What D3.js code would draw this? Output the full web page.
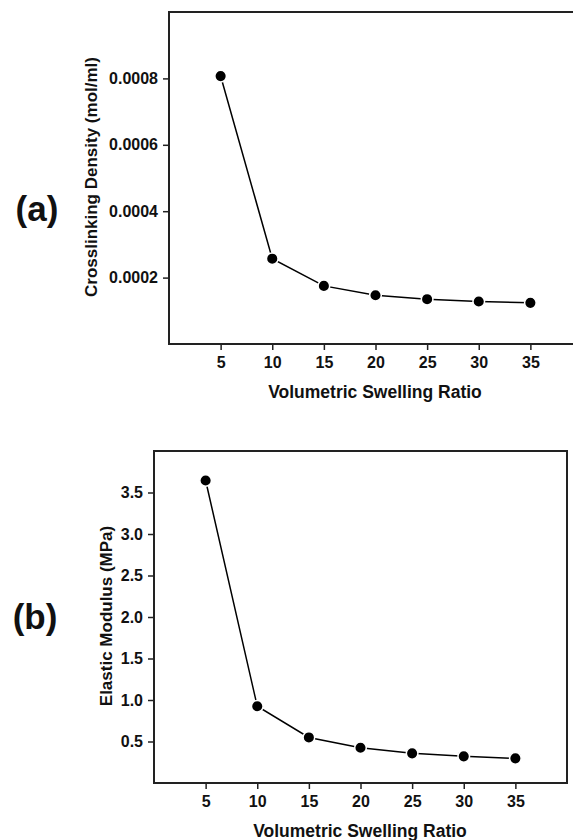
<!DOCTYPE html>
<html>
<head>
<meta charset="utf-8">
<script src="https://cdn.jsdelivr.net/npm/d3@7"></script>
<style>
  body { margin: 0; background: #fff; }
  svg text { font-family: "Liberation Sans", Arial, sans-serif; font-weight: bold; fill: #111; }
</style>
</head>
<body>
<div id="chart"></div>
<script>
// values
var swellingRatio = [5, 10, 15, 20, 25, 30, 35];
var crosslinkDensity = [0.000807, 0.000257, 0.000175, 0.000147, 0.000135, 0.000128, 0.000124];
var elasticModulus = [3.645, 0.925, 0.549, 0.425, 0.357, 0.321, 0.297];
var xTicks = [5, 10, 15, 20, 25, 30, 35];
var densityTicks = [0.0002, 0.0004, 0.0006, 0.0008];
var modulusTicks = [0.5, 1.0, 1.5, 2.0, 2.5, 3.0, 3.5];

var width = 573, height = 840;
var svg = d3.select("#chart").append("svg")
    .attr("width", width)
    .attr("height", height);

function panel(opt) {
    var x = d3.scaleLinear().domain([0, 40]).range([opt.left, opt.right]);
    var y = d3.scaleLinear().domain(opt.yDomain).range([opt.bottom, opt.top]);
    var g = svg.append("g");

    // frame
    g.append("rect")
        .attr("x", opt.left).attr("y", opt.top)
        .attr("width", opt.right - opt.left).attr("height", opt.bottom - opt.top)
        .attr("fill", "none").attr("stroke", "#222").attr("stroke-width", 2);

    var xAxis = g.append("g")
        .attr("transform", "translate(0," + opt.bottom + ")")
        .call(d3.axisBottom(x).tickValues(xTicks).tickSize(6).tickPadding(7).tickFormat(d3.format("d")));
    xAxis.select(".domain").remove();
    xAxis.selectAll("line").attr("stroke", "#222").attr("stroke-width", 1.5);
    xAxis.selectAll("text").attr("font-size", 16).attr("fill", "#111");

    var yAxis = g.append("g")
        .attr("transform", "translate(" + opt.left + ",0)")
        .call(d3.axisLeft(y).tickValues(opt.yTicks).tickSize(6).tickPadding(5).tickFormat(opt.fmt));
    yAxis.select(".domain").remove();
    yAxis.selectAll("line").attr("stroke", "#222").attr("stroke-width", 1.5);
    yAxis.selectAll("text").attr("font-size", 16).attr("fill", "#111");

    var line = d3.line()
        .x(function (d, i) { return x(swellingRatio[i]); })
        .y(function (d) { return y(d); });
    g.append("path")
        .datum(opt.values)
        .attr("d", line)
        .attr("fill", "none")
        .attr("stroke", "#000")
        .attr("stroke-width", 1.5);

    g.selectAll("circle")
        .data(opt.values)
        .enter()
        .append("circle")
        .attr("cx", function (d, i) { return x(swellingRatio[i]); })
        .attr("cy", function (d) { return y(d); })
        .attr("r", 5.8)
        .attr("fill", "#000")
        .attr("stroke", "#fff")
        .attr("stroke-width", 1.5);

    g.append("text")
        .attr("x", opt.xTitleX)
        .attr("y", opt.bottom + 54)
        .attr("text-anchor", "middle")
        .attr("font-size", 17.5)
        .text("Volumetric Swelling Ratio");

    g.append("text")
        .attr("transform", "translate(" + opt.titleX + "," + opt.titleY + ") rotate(-90)")
        .attr("text-anchor", "middle")
        .attr("font-size", 17)
        .text(opt.yTitle);

    g.append("text")
        .attr("x", opt.tagX)
        .attr("y", opt.tagY)
        .attr("text-anchor", "middle")
        .attr("font-size", 35)
        .text(opt.tag);
}

panel({
    left: 169, right: 582, top: 12, bottom: 344,
    yDomain: [0, 0.001], yTicks: densityTicks, fmt: d3.format(".4f"),
    values: crosslinkDensity, xTitleX: 375,
    yTitle: "Crosslinking Density (mol/ml)", titleX: 97, titleY: 177,
    tag: "(a)", tagX: 37, tagY: 221
});

panel({
    left: 154, right: 567, top: 451, bottom: 783,
    yDomain: [0, 4], yTicks: modulusTicks, fmt: d3.format(".1f"),
    values: elasticModulus, xTitleX: 360,
    yTitle: "Elastic Modulus (MPa)", titleX: 112, titleY: 616,
    tag: "(b)", tagX: 35, tagY: 629
});
</script>
</body>
</html>
